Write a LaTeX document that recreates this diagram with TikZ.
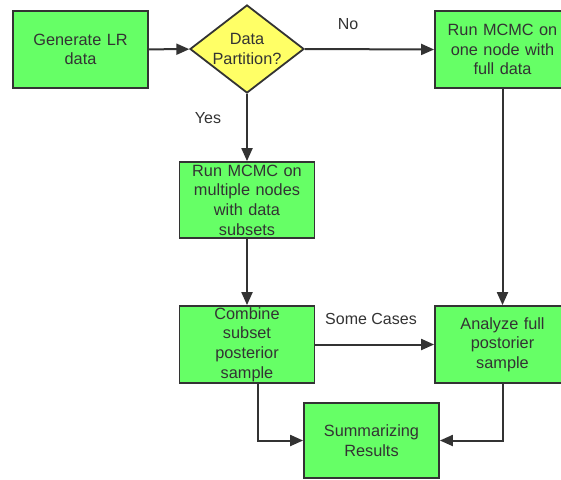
\documentclass[tikz,border=0pt]{standalone}
\usepackage{fontspec}
\setmainfont{Liberation Sans}
\usepackage{tikz}
\usetikzlibrary{shapes.geometric,arrows.meta,positioning}
\definecolor{boxgreen}{RGB}{102,255,102}
\definecolor{askyellow}{RGB}{255,255,102}
\definecolor{linegray}{RGB}{51,51,51}
\tikzset{
>={Triangle[length=13pt,width=11pt]},
  stepbox/.style={
    rectangle,
    fill=boxgreen,
    draw=linegray, line width=1.8pt,
    text=linegray,
    minimum width=135pt,
    minimum height=77pt,
    text width=130pt,
    align=center,
    inner sep=0pt,
    font=\fontsize{16.3}{19.7}\selectfont},
  decision/.style={
    diamond,
    fill=askyellow,
    draw=linegray, line width=1.8pt,
    text=linegray,
    aspect=1.3,
    minimum width=114pt,
    minimum height=88pt,
    inner sep=-3pt,
    align=center,
    font=\fontsize{16.3}{19.7}\selectfont},
  note/.style={text=linegray, font=\fontsize{16}{19}\selectfont},
}

\begin{document}
\begin{tikzpicture}[
    x=1pt, y=-1pt,
    line/.style={draw=linegray, line width=2pt, ->},
    ]
    \useasboundingbox[fill=white] (0,0) rectangle (561,479);

    % boxes
    \node[stepbox] (gen) at (80.5,49.5) {Generate LR\\data};
    \node[decision] (part) at (247,49) {Data\\Partition?};
    \node[stepbox] (one) at (502.5,49.5) {Run MCMC on\\one node with\\full data};
    \node[stepbox, minimum height=76pt] (multi) at (247,200) {Run MCMC on\\multiple nodes\\with data\\subsets};
    \node[stepbox] (comb) at (247,344.5) {Combine\\subset\\posterior\\sample};
    \node[stepbox] (anal) at (502.5,344.5) {Analyze full\\postorier\\sample};
    \node[stepbox, minimum height=75pt] (summ) at (371.5,440.5) {Summarizing\\Results};

    % labels
    \node[note] (no) at (348,24) {No};
    \node[note] (yes) at (208,118) {Yes};
    \node[note] (some) at (371,319) {Some Cases};

    % arrows
    \draw[line] (gen) -- (part);
    \draw[line] (part.east) -- (one.west);
    \draw[line] (part.south) -- (multi.north);
    \draw[line] (one.south) -- (anal.north);
    \draw[line] (multi.south) -- (comb.north);
    \draw[line] (comb.east) -- (anal.west);
    \draw[line] ([xshift=11pt]comb.south) |- (summ.west);
    \draw[line] (anal.south) |- (summ.east);

\end{tikzpicture}
\end{document}
